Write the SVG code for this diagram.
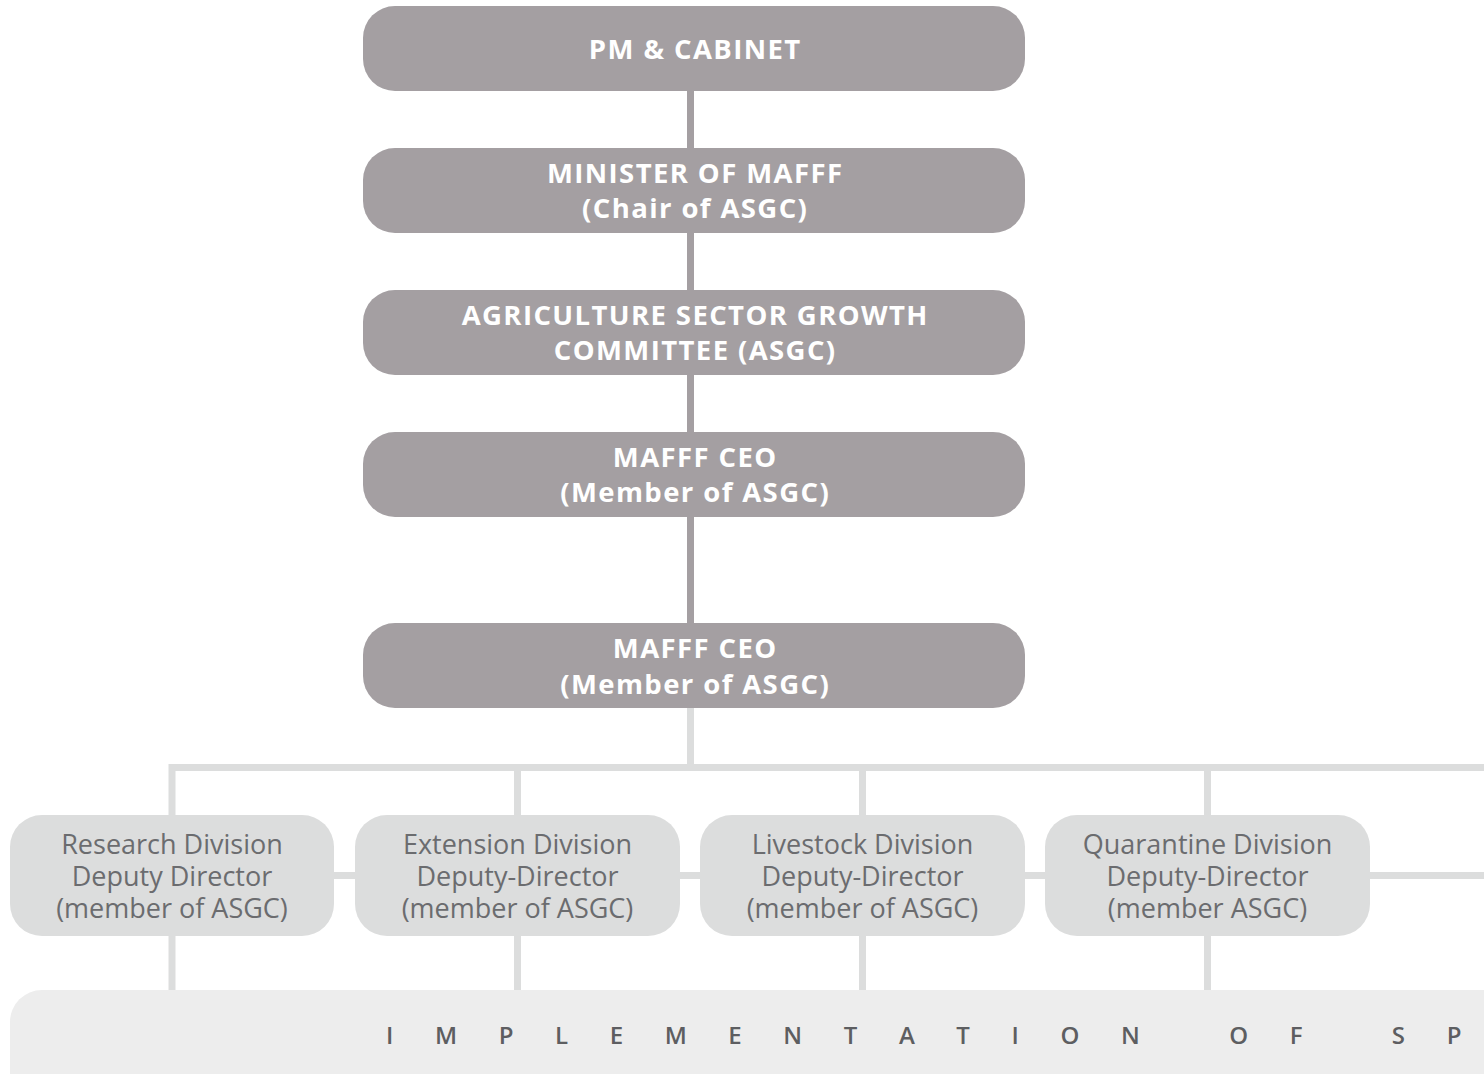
<svg xmlns="http://www.w3.org/2000/svg" width="1484" height="1074" viewBox="0 0 1484 1074">
<style>
.top{fill:#a49fa2}
.div{fill:#dcdddd}
.tt{font-family:"Open Sans","Liberation Sans",sans-serif;font-weight:700;font-size:27.5px;letter-spacing:1.4px;fill:#ffffff;text-anchor:middle}
.dt{font-family:"Open Sans","Liberation Sans",sans-serif;font-weight:400;font-size:27px;fill:#6b6c6f;text-anchor:middle}
.ct{stroke:#a49fa2;stroke-width:7;fill:none}
.cl{stroke:#dcdddd;stroke-width:7;fill:none}
</style>
<rect width="1484" height="1074" fill="#ffffff"/>
<g id="connectors">
<line class="ct" x1="690.5" y1="80" x2="690.5" y2="630"/>
<line class="cl" x1="690.5" y1="700" x2="690.5" y2="768"/>
<polyline class="cl" points="172,820 172,767.5 1490,767.5"/>
<line class="cl" x1="517.5" y1="767" x2="517.5" y2="820"/>
<line class="cl" x1="862.5" y1="767" x2="862.5" y2="820"/>
<line class="cl" x1="1207.5" y1="767" x2="1207.5" y2="820"/>
<line class="cl" x1="172" y1="875.5" x2="1490" y2="875.5"/>
<line class="cl" x1="172" y1="930" x2="172" y2="995"/>
<line class="cl" x1="517.5" y1="930" x2="517.5" y2="995"/>
<line class="cl" x1="862.5" y1="930" x2="862.5" y2="995"/>
<line class="cl" x1="1207.5" y1="930" x2="1207.5" y2="995"/>
</g>
<g id="pm-cabinet">
<rect class="top" x="363" y="6" width="662" height="85" rx="32"/>
<text class="tt" x="695.2" y="59">PM &amp; CABINET</text>
</g>
<g id="minister">
<rect class="top" x="363" y="148" width="662" height="85" rx="32"/>
<text class="tt" x="695.2" y="183">MINISTER OF MAFFF</text>
<text class="tt" x="695.2" y="218">(Chair of ASGC)</text>
</g>
<g id="asgc">
<rect class="top" x="363" y="290" width="662" height="85" rx="32"/>
<text class="tt" x="695.2" y="325">AGRICULTURE SECTOR GROWTH</text>
<text class="tt" x="695.2" y="360">COMMITTEE (ASGC)</text>
</g>
<g id="ceo1">
<rect class="top" x="363" y="432" width="662" height="85" rx="32"/>
<text class="tt" x="695.2" y="467">MAFFF CEO</text>
<text class="tt" x="695.2" y="502">(Member of ASGC)</text>
</g>
<g id="ceo2">
<rect class="top" x="363" y="623" width="662" height="85" rx="32"/>
<text class="tt" x="695.2" y="658">MAFFF CEO</text>
<text class="tt" x="695.2" y="694">(Member of ASGC)</text>
</g>
<g id="research">
<rect class="div" x="10" y="815" width="324" height="121" rx="32"/>
<text class="dt" x="172" y="854">Research Division</text>
<text class="dt" x="172" y="886">Deputy Director</text>
<text class="dt" x="172" y="918">(member of ASGC)</text>
</g>
<g id="extension">
<rect class="div" x="355" y="815" width="325" height="121" rx="32"/>
<text class="dt" x="517.5" y="854">Extension Division</text>
<text class="dt" x="517.5" y="886">Deputy-Director</text>
<text class="dt" x="517.5" y="918">(member of ASGC)</text>
</g>
<g id="livestock">
<rect class="div" x="700" y="815" width="325" height="121" rx="32"/>
<text class="dt" x="862.5" y="854">Livestock Division</text>
<text class="dt" x="862.5" y="886">Deputy-Director</text>
<text class="dt" x="862.5" y="918">(member of ASGC)</text>
</g>
<g id="quarantine">
<rect class="div" x="1045" y="815" width="325" height="121" rx="32"/>
<text class="dt" x="1207.5" y="854">Quarantine Division</text>
<text class="dt" x="1207.5" y="886">Deputy-Director</text>
<text class="dt" x="1207.5" y="918">(member ASGC)</text>
</g>
<g id="implementation">
<rect x="10" y="990" width="1530" height="130" rx="32" fill="#ededed"/>
<text x="386" y="1044" font-family="'Open Sans','Liberation Sans',sans-serif" font-weight="600" font-size="24" fill="#5d5e61" letter-spacing="41.6">IMPLEMENTATION OF SP</text>
</g>
</svg>
